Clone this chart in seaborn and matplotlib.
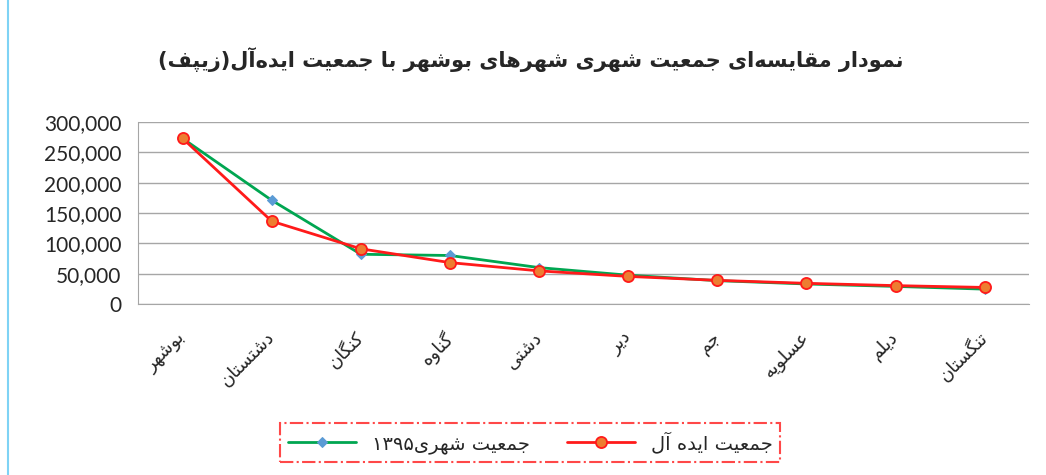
# ==========================
# Step 1 : Import the necessary libraries
# ==========================

import pandas as pd
import matplotlib.pyplot as plt
import seaborn as sns
from matplotlib.lines import Line2D
from matplotlib.ticker import FuncFormatter, FixedLocator

sns.set_style("white")
plt.rcParams['font.family'] = ['DejaVu Sans']

# ==========================
# Step 2 : Data
# ==========================

cities = ["بوشهر", "دشتستان", "کنگان", "گناوه", "دشتی", "دیر", "جم", "عسلویه", "دیلم", "تنگستان"]
pop_1395 = [273000, 171000, 82000, 80000, 60000, 47500, 38500, 33000, 29000, 24500]
pop_zipf = [273000, 136500, 91000, 68250, 54600, 45500, 39000, 34100, 30300, 27300]

title_text = "نمودار مقایسه‌ای جمعیت شهری شهرهای بوشهر با جمعیت ایده‌آل(زیپف)"
label_1395 = "جمعیت شهری۱۳۹۵"
label_zipf = "جمعیت ایده آل"

# ==========================
# Step 3 : Small Persian shaper (matplotlib has no RTL shaping)
# ==========================

# isolated, final, initial, medial
FORMS = {
    'ا': ('\uFE8D', '\uFE8E', None, None),
    'آ': ('\uFE81', '\uFE82', None, None),
    'ب': ('\uFE8F', '\uFE90', '\uFE91', '\uFE92'),
    'پ': ('\uFB56', '\uFB57', '\uFB58', '\uFB59'),
    'ت': ('\uFE95', '\uFE96', '\uFE97', '\uFE98'),
    'ج': ('\uFE9D', '\uFE9E', '\uFE9F', '\uFEA0'),
    'د': ('\uFEA9', '\uFEAA', None, None),
    'ر': ('\uFEAD', '\uFEAE', None, None),
    'ز': ('\uFEAF', '\uFEB0', None, None),
    'س': ('\uFEB1', '\uFEB2', '\uFEB3', '\uFEB4'),
    'ش': ('\uFEB5', '\uFEB6', '\uFEB7', '\uFEB8'),
    'ع': ('\uFEC9', '\uFECA', '\uFECB', '\uFECC'),
    'ف': ('\uFED1', '\uFED2', '\uFED3', '\uFED4'),
    'ق': ('\uFED5', '\uFED6', '\uFED7', '\uFED8'),
    'ک': ('\uFB8E', '\uFB8F', '\uFB90', '\uFB91'),
    'گ': ('\uFB92', '\uFB93', '\uFB94', '\uFB95'),
    'ل': ('\uFEDD', '\uFEDE', '\uFEDF', '\uFEE0'),
    'م': ('\uFEE1', '\uFEE2', '\uFEE3', '\uFEE4'),
    'ن': ('\uFEE5', '\uFEE6', '\uFEE7', '\uFEE8'),
    'ه': ('\uFEE9', '\uFEEA', '\uFEEB', '\uFEEC'),
    'و': ('\uFEED', '\uFEEE', None, None),
    'ی': ('\uFBFC', '\uFBFD', '\uFBFE', '\uFBFF'),
}
DIGITS = set("0123456789۰۱۲۳۴۵۶۷۸۹")
MIRROR = {'(': ')', ')': '('}


def fa(text):
    shaped = []
    for i, c in enumerate(text):
        if c == '\u200c':
            continue
        if c not in FORMS:
            shaped.append(c)
            continue
        prev = text[i - 1] if i > 0 else None
        nxt = text[i + 1] if i + 1 < len(text) else None
        join_prev = prev in FORMS and FORMS[prev][2] is not None
        join_next = FORMS[c][2] is not None and nxt in FORMS
        f = FORMS[c]
        if join_prev and join_next:
            shaped.append(f[3])
        elif join_prev:
            shaped.append(f[1])
        elif join_next:
            shaped.append(f[2])
        else:
            shaped.append(f[0])
    # visual order: reverse, keep digit runs left-to-right
    runs = []
    for c in shaped:
        is_d = c in DIGITS
        if runs and runs[-1][0] == is_d:
            runs[-1][1].append(c)
        else:
            runs.append((is_d, [c]))
    out = ""
    for is_d, chars in reversed(runs):
        if is_d:
            out += "".join(chars)
        else:
            out += "".join(MIRROR.get(c, c) for c in reversed(chars))
    return out


df = pd.DataFrame({
    "city": [fa(c) for c in cities],
    "pop_1395": pop_1395,
    "pop_zipf": pop_zipf,
})

# ==========================
# Step 4 : Plot
# ==========================

fig = plt.figure(figsize=(10.46, 4.75), dpi=100)
ax = fig.add_axes([0.132, 0.36, 0.852, 0.383])

sns.lineplot(data=df, x="city", y="pop_1395", sort=False, ax=ax, color="#00A651",
             linewidth=2, marker="D", markersize=5, markerfacecolor="#5B9BD5",
             markeredgecolor="#5B9BD5", label=fa(label_1395), zorder=3)
sns.lineplot(data=df, x="city", y="pop_zipf", sort=False, ax=ax, color="#FF1A1A",
             linewidth=2, marker="o", markersize=8, markerfacecolor="#ED7D31",
             markeredgecolor="#FF1A1A", markeredgewidth=1.3, label=fa(label_zipf), zorder=4)

ax.set_xlim(-0.5, len(cities) - 0.5)
ax.set_ylim(0, 300000)
ax.set_yticks(range(0, 300001, 50000))
ax.yaxis.set_major_formatter(FuncFormatter(lambda v, p: f"{int(v):,}"))
ax.grid(axis="y", color="#a6a6a6", linewidth=1)
ax.set_xlabel("")
ax.set_ylabel("")

for s in ["top", "right"]:
    ax.spines[s].set_visible(False)
for s in ["left", "bottom"]:
    ax.spines[s].set_color("#a6a6a6")

ax.tick_params(axis="y", length=8, color="#a6a6a6", labelsize=15, pad=4)
ax.tick_params(axis="x", which="major", length=0, labelsize=13, pad=22)
ax.xaxis.set_minor_locator(FixedLocator([i - 0.5 for i in range(len(cities) + 1)]))
ax.tick_params(axis="x", which="minor", length=7, color="#a6a6a6")
for t in ax.get_yticklabels():
    t.set_fontfamily("Lato")
for t in ax.get_xticklabels():
    t.set_rotation(45)
    t.set_ha("right")
    t.set_va("center")
    t.set_rotation_mode("anchor")

fig.text(0.507, 0.874, fa(title_text), ha="center", va="center",
         fontsize=15, fontweight="bold")

handles, labels = ax.get_legend_handles_labels()
leg = ax.legend(handles, labels, ncol=2, loc="center", mode="expand",
                bbox_to_anchor=(0.268, 0.017, 0.478, 0.103),
                bbox_transform=fig.transFigure, fontsize=14, frameon=True,
                fancybox=False, handlelength=3.5, borderaxespad=0)
leg.get_frame().set_edgecolor("#FF1A1A")
leg.get_frame().set_linestyle("-.")
leg.get_frame().set_linewidth(1.5)

# light blue border on the left side of the chart area
fig.add_artist(Line2D([0.008, 0.008], [0, 1], transform=fig.transFigure,
                      color="#7FD3F5", linewidth=1.5))

plt.savefig("out.png", dpi=100)
